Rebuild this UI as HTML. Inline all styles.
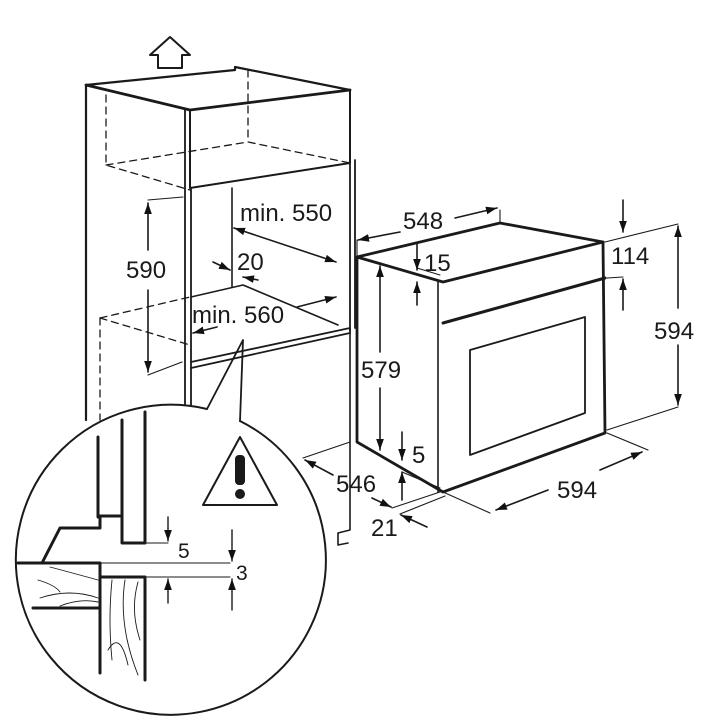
<!DOCTYPE html>
<html><head><meta charset="utf-8"><style>
html,body{margin:0;padding:0;background:#fff;width:720px;height:720px;overflow:hidden}
text{font-family:"Liberation Sans",sans-serif;fill:#1a1a1a}
</style></head><body>
<svg width="720" height="720" viewBox="0 0 720 720" xmlns="http://www.w3.org/2000/svg">
<defs>
<marker id="a" viewBox="0 0 10 10" refX="10" refY="5" markerWidth="11" markerHeight="11" orient="auto-start-reverse" markerUnits="userSpaceOnUse"><path d="M0,1.5 L10,5 L0,8.5 Z" fill="#111"/></marker>
</defs>
<g fill="none" stroke="#1a1a1a" stroke-linecap="round" stroke-linejoin="round">
<path d="M158,68 L158,55 L150,55 L170,37 L190,55 L182,55 L182,68 Z" stroke-width="2"/>
<path d="M86,85 L86,420" stroke-width="2.2"/>
<path d="M86,85 L190,110 L350,90" stroke-width="2.8"/>
<path d="M86,85 L235,70 L235,67 L350,90" stroke-width="2.2"/>
<path d="M190,110 L190,188 L350,163 L350,90" stroke-width="2"/>
<path d="M185,110 L185,500 M191,188 L191,505" stroke-width="1.8"/>
<path d="M350,163 L350,330 M355,160 L355,328" stroke-width="1.8"/>
<path d="M232,188 L232,287" stroke-width="1.6"/>
<path d="M191,297 L243,285 L338,325" stroke-width="1.6"/>
<path d="M191,362 L350,328 L350,333 L191,368" stroke-width="1.8"/>
<path d="M350,333 L350,530 L338,533 L338,545 L348,543" stroke-width="1.6"/>
<path d="M207,409 L243,340 L240,421" stroke-width="1.8"/>
<g stroke-dasharray="7,5" stroke-width="1.3">
<path d="M106,95 L106,165 L190,190"/>
<path d="M106,165 L248,142 L350,163"/>
<path d="M248,70 L248,142"/>
<path d="M100,318 L100,420"/>
<path d="M100,318 L190,297"/>
<path d="M100,318 L190,345"/>
</g>
<path d="M148,200 L183,197 M148,375 L182,362" stroke-width="1.1"/>
<path d="M148,203 L148,250 M148,290 L148,372" stroke-width="1.6" marker-start="url(#a)" marker-end="url(#a)"/>
<path d="M234,228 L336,262" stroke-width="1.6" marker-start="url(#a)" marker-end="url(#a)"/>
<path d="M213,262 L230,270" stroke-width="1.6" marker-end="url(#a)"/>
<path d="M258,280 L243,277" stroke-width="1.6" marker-end="url(#a)"/>
<path d="M297,307 L336,297" stroke-width="1.6" marker-end="url(#a)"/>
<path d="M217,327 L193,333" stroke-width="1.6" marker-end="url(#a)"/>
<path d="M357,257 L500,223 L603,242" stroke-width="2.8"/>
<path d="M357,257 L443,282 L603,242 L605,433 L443,492 L357,442 Z" stroke-width="2.8"/>
<path d="M438,282 L438,492" stroke-width="1.6"/>
<path d="M443,323 L605,278" stroke-width="3"/>
<path d="M470,350 L585,317 L585,413 L470,455 Z" stroke-width="1.8"/>
<path d="M357,257 L357,240 M500,223 L500,210" stroke-width="1.1"/>
<path d="M400,232 L358,240" stroke-width="1.6" marker-end="url(#a)"/>
<path d="M455,218 L497,208" stroke-width="1.6" marker-end="url(#a)"/>
<path d="M417,243 L417,270" stroke-width="1.6" marker-end="url(#a)"/>
<path d="M417,305 L417,282" stroke-width="1.6" marker-end="url(#a)"/>
<path d="M417,268 L440,275" stroke-width="1"/>
<path d="M380,352 L380,266" stroke-width="1.6" marker-end="url(#a)"/>
<path d="M380,388 L380,450" stroke-width="1.6" marker-end="url(#a)"/>
<path d="M402,432 L402,460" stroke-width="1.6" marker-end="url(#a)"/>
<path d="M402,500 L402,472" stroke-width="1.6" marker-end="url(#a)"/>
<path d="M402,472 L440,488" stroke-width="1"/>
<path d="M605,242 L678,224 M607,278 L623,277 M607,430 L678,407" stroke-width="1.1"/>
<path d="M623,200 L623,232" stroke-width="1.6" marker-end="url(#a)"/>
<path d="M623,310 L623,279" stroke-width="1.6" marker-end="url(#a)"/>
<path d="M678,308 L678,226" stroke-width="1.6" marker-end="url(#a)"/>
<path d="M678,345 L678,405" stroke-width="1.6" marker-end="url(#a)"/>
<path d="M607,433 L648,450 M443,492 L490,513" stroke-width="1.1"/>
<path d="M548,490 L496,510" stroke-width="1.6" marker-end="url(#a)"/>
<path d="M600,470 L642,452" stroke-width="1.6" marker-end="url(#a)"/>
<path d="M303,458 L350,442 M392,508 L440,492 M400,514 L445,496" stroke-width="1.1"/>
<path d="M333,475 L305,460" stroke-width="1.6" marker-end="url(#a)"/>
<path d="M372,498 L391,507" stroke-width="1.6" marker-end="url(#a)"/>
<path d="M427,527 L401,515" stroke-width="1.6" marker-end="url(#a)"/>
<path d="M207,409 A155,155 0 1,0 240,421" stroke-width="2" fill="#fff"/>
<path d="M203,505 L240,437 L277,505 Z" stroke-width="2"/>
<path d="M98,437 L98,517 L100,516 L122,516" stroke-width="3"/>
<path d="M122,420 L122,543 L145,543 L145,412" stroke-width="3"/>
<path d="M100,517 L100,528 L60,528 L42,563" stroke-width="3"/>
<path d="M18,563 L100,563 L100,673" stroke-width="3"/>
<path d="M33,608 L100,608" stroke-width="3"/>
<path d="M100,577 L145,577 L145,680" stroke-width="3"/>
<path d="M145,543 L168,543 M100,563 L230,563 M145,577 L230,577" stroke-width="1.1"/>
<path d="M168,517 L168,541" stroke-width="1.4" marker-end="url(#a)"/>
<path d="M168,603 L168,579" stroke-width="1.4" marker-end="url(#a)"/>
<path d="M232,530 L232,561" stroke-width="1.4" marker-end="url(#a)"/>
<path d="M232,610 L232,579" stroke-width="1.4" marker-end="url(#a)"/>
<path d="M50,567 Q80,575 98,580 M38,580 Q55,585 60,592 M40,598 Q70,588 98,598 M60,606 Q80,598 98,602 M112,580 Q108,620 112,660 M125,580 Q118,625 138,675 M138,582 Q130,610 140,640 M108,650 Q120,630 128,665" stroke-width="0.9"/>
</g>
<rect x="235" y="455" width="10" height="30" rx="4" fill="#1a1a1a"/>
<circle cx="240" cy="494" r="5" fill="#1a1a1a"/>
<g font-size="24">
<text x="240" y="221">min. 550</text>
<text x="237" y="270">20</text>
<text x="192" y="323">min. 560</text>
<text x="126" y="278">590</text>
<text x="403" y="229">548</text>
<text x="424" y="271">15</text>
<text x="361" y="378">579</text>
<text x="412" y="463">5</text>
<text x="611" y="264">114</text>
<text x="654" y="339">594</text>
<text x="557" y="498">594</text>
<text x="336" y="492">546</text>
<text x="371" y="536">21</text>
<text x="178" y="558" font-size="21">5</text>
<text x="236" y="580" font-size="21">3</text>
</g>
</svg>
</body></html>
